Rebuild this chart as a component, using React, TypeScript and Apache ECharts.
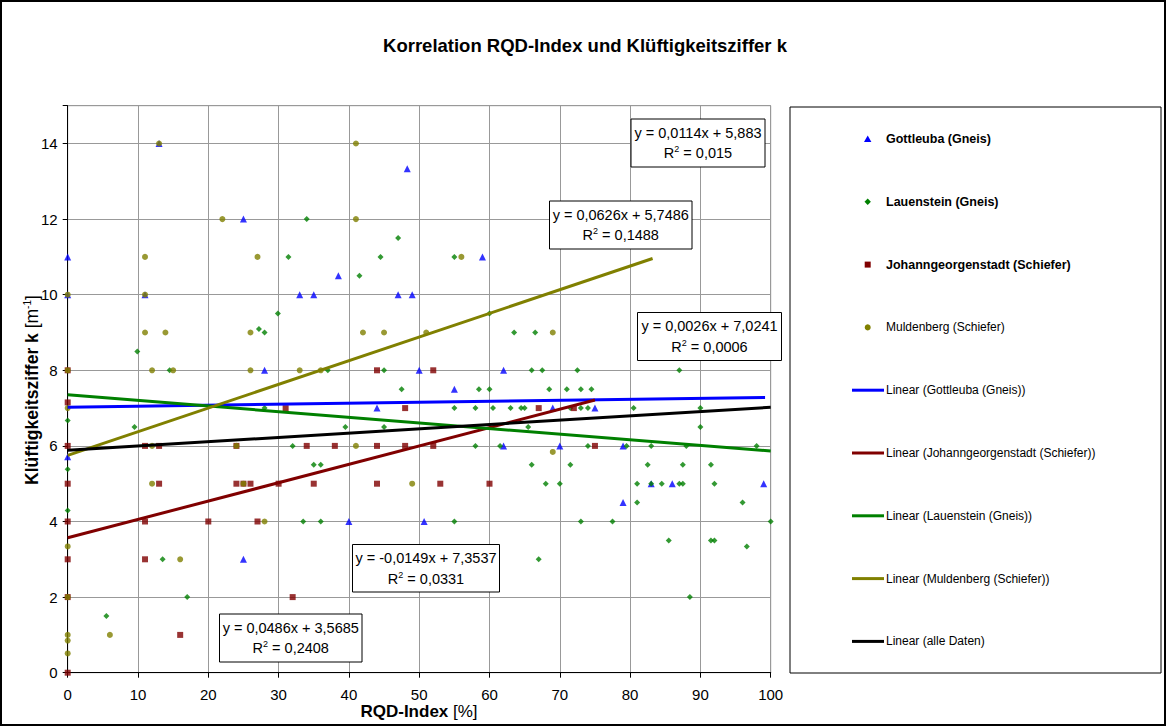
import React, { useEffect, useRef } from "react";
import * as echarts from "echarts";

// ---- data (RQD-Index [%], Klüftigkeitsziffer k [1/m]) ----
const gottleuba: number[][] = [
  [0, 11], [0, 10], [0, 5.71], [13, 14], [25, 12], [11, 10], [28, 8], [25, 3],
  [48.3, 13.33], [59, 11], [38.5, 10.5], [33, 10], [35, 10], [47, 10], [49, 10],
  [50, 8], [62, 8], [55, 7.5], [44, 7], [62, 6], [40, 4], [50.7, 4],
  [69, 7], [75, 7], [70, 6], [79, 6], [83, 5], [86, 5], [99, 5], [79, 4.5],
];
const lauenstein: number[][] = [
  [0, 6.67], [0, 5.38], [0, 4.29], [9.5, 6.5], [28, 7], [13.5, 3], [17, 2], [5.5, 1.5],
  [9.9, 8.5], [14.5, 8], [27.2, 9.09], [28, 9], [29.9, 9.5], [31.4, 11],
  [34, 12], [47, 11.5], [44.5, 11], [55, 11], [41.5, 10.5], [63.5, 9], [60, 9.5],
  [37, 8], [45, 8], [47.5, 7.5], [58.5, 7.5], [60, 7.5],
  [55, 7], [58, 7], [60.5, 7], [63, 7], [64.5, 7], [65, 7], [39.5, 6.5], [45, 6.5],
  [32, 6], [58, 6], [61.5, 6], [35, 5.5], [36, 5.5], [33.5, 4], [36, 4], [55, 4],
  [66.5, 9], [66, 8], [67.5, 8], [72.5, 8], [87, 8], [68.5, 7.5], [71, 7.5], [73, 7.5], [74.5, 7.5],
  [71.5, 7], [73, 7], [74, 7], [80.5, 7], [90, 7], [65.5, 6.5], [90, 6.5],
  [74, 6], [79.5, 6], [83, 6], [88, 6], [98, 6],
  [66, 5.5], [71.5, 5.5], [82.5, 5.5], [87.5, 5.5], [91.5, 5.5],
  [68, 5], [70, 5], [81, 5], [83, 5], [84.5, 5], [87, 5], [87.5, 5], [92, 5],
  [81, 4.5], [96, 4.5], [73, 4], [77.5, 4], [100, 4], [85.5, 3.5], [91.5, 3.5], [92, 3.5],
  [96.6, 3.34], [67, 3], [88.5, 2],
];
const johanngeorgenstadt: number[][] = [
  [0, 8], [0, 7.15], [0, 6], [0, 5], [0, 4], [0, 3], [0, 2], [0, 0],
  [11, 6], [13, 6], [24, 6], [31, 7], [13, 5], [24, 5], [25, 5], [26, 5], [30, 5],
  [11, 4], [20, 4], [27, 4], [11, 3], [16, 1], [32, 2],
  [34, 6], [38, 6], [44, 6], [48, 6], [52, 6], [44, 8], [52, 8], [48, 7],
  [35, 5], [44, 5], [53, 5], [60, 5], [67, 7], [72, 7], [75, 6],
];
const muldenberg: number[][] = [
  [0, 10], [0, 8], [0, 7], [0, 3.34], [0, 2], [0, 1], [0, 0.85], [0, 0.51],
  [13, 14], [22, 12], [11, 11], [27, 11], [11, 10], [26, 9], [11, 9], [13.9, 9],
  [12, 8], [15, 8], [26, 8], [12, 6], [24, 6], [12, 5], [25, 5], [28, 4], [16, 3], [6, 1],
  [41, 14], [41, 12], [56, 11], [42, 9], [45, 9], [51, 9], [33, 8], [36, 8], [41, 6],
  [49, 5], [69, 9], [69, 5.84],
];

const seriesNames = [
  "Gottleuba (Gneis)",
  "Lauenstein (Gneis)",
  "Johanngeorgenstadt (Schiefer)",
  "Muldenberg (Schiefer)",
];
const seriesBold = [true, true, true, false];

// trendlines as printed on the chart
const trendNames = [
  "Linear (Gottleuba (Gneis))",
  "Linear (Johanngeorgenstadt (Schiefer))",
  "Linear (Lauenstein (Gneis))",
  "Linear (Muldenberg (Schiefer))",
  "Linear (alle Daten)",
];
const trendSlopes = [0.0026, 0.0486, -0.0149, 0.0626, 0.0114];
const trendIntercepts = [7.0241, 3.5685, 7.3537, 5.7486, 5.883];
const trendXStart = [0, 0, 0, 0, 0];
const trendXEnd = [99.2, 75, 100, 83.2, 100];
const trendEquations = [
  "y = 0,0026x + 7,0241",
  "y = 0,0486x + 3,5685",
  "y = -0,0149x + 7,3537",
  "y = 0,0626x + 5,7486",
  "y = 0,0114x + 5,883",
];
const trendR2 = ["0,0006", "0,2408", "0,0331", "0,1488", "0,015"];

const X_MIN = 0;
const X_MAX = 100;
const Y_MIN = 0;
const Y_MAX = 15;

// ---- styling ----
const FONT = "'Liberation Sans', Arial, sans-serif";
const markerColors = ["#0000FF", "#008000", "#800000", "#808000"];
const markerSymbols = ["triangle", "diamond", "rect", "circle"];
const markerSizes = [7, 6, 6, 6];
const trendColors = ["#0000FF", "#800000", "#008000", "#808000", "#000000"];
// label boxes of trendlines (pixel layout)
const boxLayout = [
  { x: 637.5, y: 312.5, w: 144, h: 48 },
  { x: 219.5, y: 614, w: 142.5, h: 48 },
  { x: 352.5, y: 544.5, w: 147, h: 47.5 },
  { x: 549.5, y: 201, w: 142.5, h: 48 },
  { x: 631, y: 119, w: 134, h: 48 },
];

export default function App() {
  const ref = useRef<HTMLDivElement>(null);
  useEffect(() => {
    document.body.style.margin = "0";
    if (!ref.current) return;
    const chart = echarts.init(ref.current, undefined, { renderer: "svg" });

    const scatterData = [gottleuba, lauenstein, johanngeorgenstadt, muldenberg];
    const scatterSeries = scatterData.map((d, i) => ({
      name: seriesNames[i],
      type: "scatter",
      data: d,
      symbol: markerSymbols[i],
      symbolSize: markerSizes[i],
      itemStyle: { color: markerColors[i] },
      clip: false,
      z: 3,
      emphasis: { disabled: true },
    }));
    const lineSeries = trendNames.map((n, i) => ({
      name: n,
      type: "line",
      data: [
        [trendXStart[i], trendSlopes[i] * trendXStart[i] + trendIntercepts[i]],
        [trendXEnd[i], trendSlopes[i] * trendXEnd[i] + trendIntercepts[i]],
      ],
      showSymbol: false,
      symbol: "none",
      lineStyle: { color: trendColors[i], width: 3 },
      itemStyle: { color: trendColors[i] },
      z: 4,
      emphasis: { disabled: true },
    }));

    const graphics: any[] = [];
    // outer border
    graphics.push({
      type: "rect",
      shape: { x: 1, y: 1, width: 1164, height: 724 },
      style: { fill: "none", stroke: "#000", lineWidth: 2 },
      silent: true,
      z: 100,
    });
    // title
    graphics.push({
      type: "text",
      x: 585,
      y: 45,
      z: 100,
      style: {
        text: "Korrelation RQD-Index und Klüftigkeitsziffer k",
        font: `bold 18.5px ${FONT}`,
        fill: "#000",
        align: "center",
        verticalAlign: "middle",
      },
    });
    // x axis title
    graphics.push({
      type: "text",
      x: 419,
      y: 711,
      z: 100,
      style: {
        text: "{b|RQD-Index }{r|[%]}",
        fill: "#000",
        align: "center",
        verticalAlign: "middle",
        rich: {
          b: { font: `bold 17px ${FONT}`, fill: "#000" },
          r: { font: `17px ${FONT}`, fill: "#000" },
        },
      },
    });
    // y axis title
    graphics.push({
      type: "text",
      x: 32,
      y: 390,
      rotation: Math.PI / 2,
      z: 100,
      style: {
        text: "{b|Klüftigkeitsziffer k }{r|[m}{s|-1}{r|]}",
        fill: "#000",
        align: "center",
        verticalAlign: "middle",
        rich: {
          b: { font: `bold 17.5px ${FONT}`, fill: "#000", lineHeight: 20 },
          r: { font: `17.5px ${FONT}`, fill: "#000", lineHeight: 20 },
          s: { font: `10px ${FONT}`, fill: "#000", verticalAlign: "top", lineHeight: 10 },
        },
      },
    });
    // trendline label boxes
    boxLayout.forEach((b, i) => {
      graphics.push({
        type: "rect",
        shape: { x: b.x, y: b.y, width: b.w, height: b.h },
        style: { fill: "#fff", stroke: "#000", lineWidth: 1 },
        z: 100,
      });
      graphics.push({
        type: "text",
        x: b.x + b.w / 2,
        y: b.y + 13.5,
        z: 101,
        style: {
          text: trendEquations[i],
          font: `14.5px ${FONT}`,
          fill: "#000",
          align: "center",
          verticalAlign: "middle",
        },
      });
      graphics.push({
        type: "text",
        x: b.x + b.w / 2,
        y: b.y + 34,
        z: 101,
        style: {
          text: `{n|R}{s|2}{n| = ${trendR2[i]}}`,
          fill: "#000",
          align: "center",
          verticalAlign: "middle",
          rich: {
            n: { font: `14.5px ${FONT}`, fill: "#000", lineHeight: 17 },
            s: { font: `9px ${FONT}`, fill: "#000", verticalAlign: "top", lineHeight: 10 },
          },
        },
      });
    });
    // legend box
    graphics.push({
      type: "rect",
      shape: { x: 790, y: 107, width: 371, height: 566 },
      style: { fill: "#fff", stroke: "#000", lineWidth: 1 },
      z: 100,
    });
    const legendX = 867.7;
    const legendY0 = 139;
    const legendStep = 62.8;
    seriesNames.forEach((n, i) => {
      const cy = legendY0 + i * legendStep;
      const c = markerColors[i];
      let icon: any;
      if (i === 0) {
        icon = { type: "polygon", shape: { points: [[legendX, cy - 3.5], [legendX - 3.7, cy + 3], [legendX + 3.7, cy + 3]] }, style: { fill: c } };
      } else if (i === 1) {
        icon = { type: "polygon", shape: { points: [[legendX, cy - 3.2], [legendX + 3.2, cy], [legendX, cy + 3.2], [legendX - 3.2, cy]] }, style: { fill: c } };
      } else if (i === 2) {
        icon = { type: "rect", shape: { x: legendX - 3, y: cy - 3, width: 6, height: 6 }, style: { fill: c } };
      } else {
        icon = { type: "circle", shape: { cx: legendX, cy, r: 3 }, style: { fill: c } };
      }
      icon.z = 101;
      graphics.push(icon);
      graphics.push({
        type: "text",
        x: 886,
        y: cy,
        z: 101,
        style: {
          text: n,
          font: `${seriesBold[i] ? "bold 12.5px" : "12px"} ${FONT}`,
          fill: "#000",
          align: "left",
          verticalAlign: "middle",
        },
      });
    });
    trendNames.forEach((n, i) => {
      const cy = legendY0 + (i + 4) * legendStep;
      graphics.push({
        type: "line",
        shape: { x1: 852, y1: cy, x2: 884, y2: cy },
        style: { stroke: trendColors[i], lineWidth: 3 },
        z: 101,
      });
      graphics.push({
        type: "text",
        x: 886,
        y: cy,
        z: 101,
        style: {
          text: n,
          font: `12px ${FONT}`,
          fill: "#000",
          align: "left",
          verticalAlign: "middle",
        },
      });
    });

    chart.setOption({
      animation: false,
      backgroundColor: "#fff",
      textStyle: { fontFamily: FONT },
      grid: {
        left: 67.7,
        top: 105.7,
        right: 1166 - 770.7,
        bottom: 726 - 672.7,
        show: true,
        borderColor: "#999",
        borderWidth: 1,
        backgroundColor: "transparent",
      },
      xAxis: {
        type: "value",
        min: X_MIN,
        max: X_MAX,
        interval: 10,
        axisLine: { show: true, onZero: false, lineStyle: { color: "#000", width: 1 } },
        axisTick: { show: true, inside: false, length: 5, lineStyle: { color: "#000" } },
        axisLabel: { color: "#000", fontSize: 15, fontFamily: FONT, margin: 14 },
        splitLine: { show: true, lineStyle: { color: "#999", width: 1 } },
      },
      yAxis: {
        type: "value",
        min: Y_MIN,
        max: Y_MAX,
        interval: 2,
        axisLine: { show: true, onZero: false, lineStyle: { color: "#000", width: 1 } },
        axisTick: { show: true, inside: false, length: 5, lineStyle: { color: "#000" } },
        axisLabel: {
          color: "#000",
          fontSize: 15,
          fontFamily: FONT,
          margin: 10,
          formatter: (v: number) => (v === Y_MAX ? "" : String(v)),
        },
        splitLine: { show: true, lineStyle: { color: "#999", width: 1 } },
      },
      tooltip: { show: false },
      series: [...scatterSeries, ...lineSeries],
      graphic: { elements: graphics },
    });
    return () => chart.dispose();
  }, []);
  return <div ref={ref} style={{ width: 1166, height: 726 }} />;
}
